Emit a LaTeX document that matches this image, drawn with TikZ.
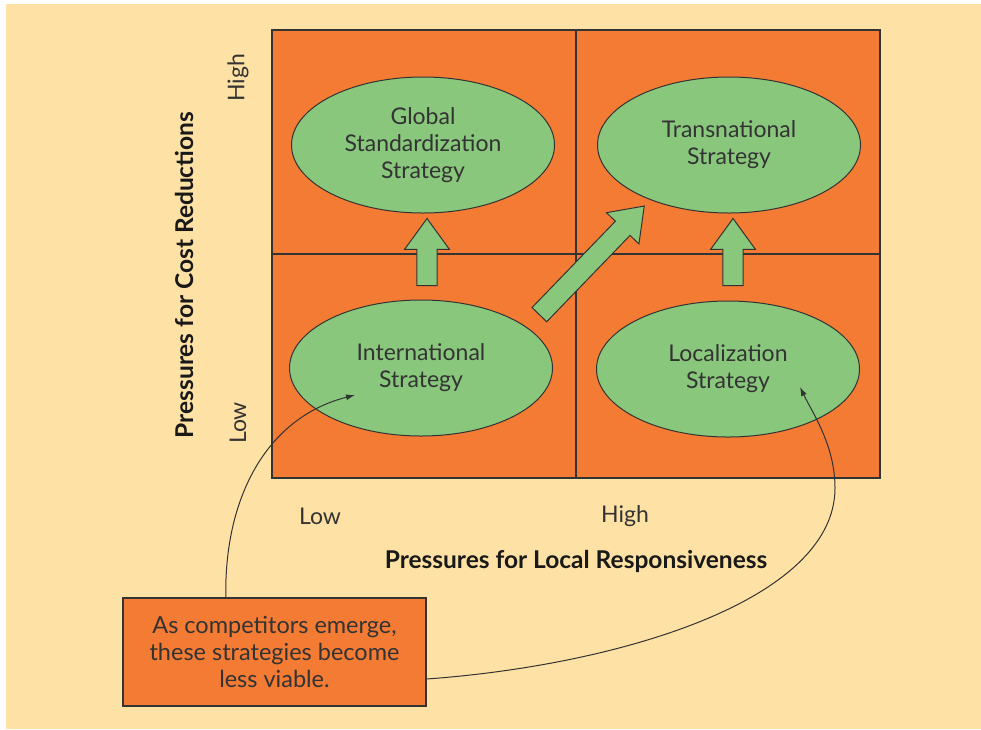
\documentclass[tikz,border=0pt]{standalone}
\usepackage{fontspec}
\setmainfont{Lato}
\usetikzlibrary{arrows.meta, positioning, shapes.geometric, shapes.arrows, calc}
\usepackage{xcolor}
\definecolor{PaperY}{HTML}{FEE1A4}
\definecolor{CellO}{HTML}{F37B33}
\definecolor{OvalG}{HTML}{89C77D}
\definecolor{InkD}{HTML}{333333}
\tikzset{
  cell/.style={draw=InkD, line width=1.8pt, fill=CellO, minimum width=304pt,
    minimum height=224pt, inner sep=0pt, outer sep=0pt},
  oval/.style={ellipse, draw=InkD, line width=1pt, fill=OvalG, align=center,
    minimum width=263pt, minimum height=136pt, inner sep=0pt, text=InkD,
    font=\fontsize{23}{27}\selectfont},
  fatarrow/.style={single arrow, draw=InkD, line width=1pt, fill=OvalG,
    inner xsep=0pt, inner ysep=9.7pt, single arrow head extend=12.3pt,
    minimum width=44pt, single arrow tip angle=72, anchor=tail},
  axlab/.style={text=InkD, font=\fontsize{23}{27}\selectfont},
  axtitle/.style={text=black!90, font=\bfseries\fontsize{24.5}{28}\selectfont},
  notebox/.style={draw=InkD, line width=1.2pt, fill=CellO, align=center,
    minimum width=303pt, minimum height=108pt, inner sep=0pt, text=InkD,
    font=\fontsize{23.5}{27}\selectfont},
  link/.style={-{Latex[length=9pt,width=6pt]}, draw=InkD, line width=1pt},
}

\begin{document}
\begin{tikzpicture}[x=1pt, y=-1pt]
    \useasboundingbox (0,0) rectangle (981,729);
    \fill[white] (0,0) rectangle (981,729);
    \fill[PaperY] (6,4) rectangle (981,729);

    % quadrants
    \node[cell] (ul) at (424,142) {};
    \node[cell, right=0pt of ul] (ur) {};
    \node[cell, below=0pt of ul] (ll) {};
    \node[cell, right=0pt of ll] (lr) {};

    % strategies
    \node[oval] (glob) at ($(ul)+(-1,3)$) {Global\\Standardization\\Strategy};
    \node[oval] (trans) at ($(ur)+(1,3)$) {Transnational\\Strategy};
    \node[oval] (intl) at ($(ll)+(-3,2)$) {International\\Strategy};
    \node[oval] (loc) at ($(lr)+(0,3)$) {Localization\\Strategy};

    % moves between strategies
    \node[fatarrow, rotate=90, minimum height=67pt] (up1) at (427,286) {};
    \node[fatarrow, rotate=90, minimum height=67pt] (up2) at (733,286) {};
    \node[fatarrow, rotate=46, minimum height=151pt] (diag) at (539,315) {};

    % axes
    \node[axlab, rotate=90] (yhigh) at (238,78) {High};
    \node[axlab, rotate=90] (ylow) at (238,423) {Low};
    \node[axlab] (xlow) at (320,516) {Low};
    \node[axlab] (xhigh) at (625,516) {High};
    \node[axtitle] (xtitle) at (576,561) {Pressures for Local Responsiveness};
    \node[axtitle, rotate=90] (ytitle) at (184,275) {Pressures for Cost Reductions};

    % note and its links
    \node[notebox] (note) at (274.5,652) {As competitors emerge,\\these strategies become\\less viable.};
    \coordinate (intl-in) at (355,395);
    \coordinate (loc-in) at (800,387);
    \draw[link] ($(note.north west)!0.34!(note.north east)$) .. controls (224,500) and (265,418) .. (intl-in);
    \draw[link] ($(note.east)+(0,27)$) .. controls (620,665) and (835,600) .. (835,488)
      .. controls (835,445) and (812,412) .. (loc-in);
\end{tikzpicture}
\end{document}
